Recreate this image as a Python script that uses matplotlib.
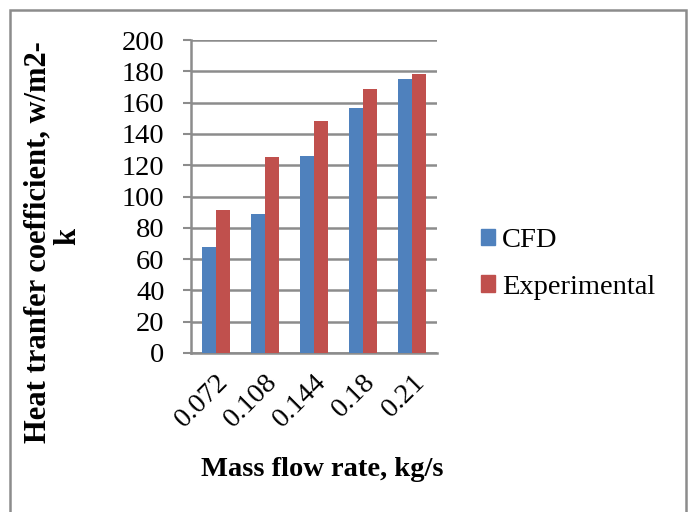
import matplotlib
matplotlib.use("Agg")
import matplotlib.pyplot as plt
import matplotlib.patches as mpatches
import numpy as np

categories = ["0.072", "0.108", "0.144", "0.18", "0.21"]
cfd = [67.5, 88.5, 126, 156.5, 175]
experimental = [91.5, 125.5, 148, 168.5, 178]
yticks = [0, 20, 40, 60, 80, 100, 120, 140, 160, 180, 200]

plt.rcParams['font.family'] = ['Liberation Serif', 'DejaVu Serif']

W, H = 690, 512
FS = 20.5
fig = plt.figure(figsize=(W/100, H/100), dpi=100)
ax = fig.add_axes([191/W, 1-353/H, (437-191)/W, (353-40)/H])

x = np.arange(len(categories))
bw = 0.285
ax.bar(x - bw/2, cfd, bw, color="#4F81BD", label="CFD", zorder=3)
ax.bar(x + bw/2, experimental, bw, color="#C0504D", label="Experimental", zorder=3)

ax.set_xlim(-0.5, len(categories) - 0.5)
ax.set_ylim(0, 200)
ax.set_yticks(yticks)
ax.set_yticklabels([str(v) for v in yticks], fontsize=FS)
ax.set_xticks(x)
ax.set_xticklabels(categories, fontsize=FS, rotation=45, ha='right', va='top',
                   rotation_mode='anchor')
ax.tick_params(axis='x', length=0, pad=12)
ax.tick_params(axis='y', length=6, width=1.5, color='#8C8C8C', pad=13)

ax.grid(axis='y', color='#8C8C8C', linewidth=1.8, zorder=0)
for s in ['top', 'right']:
    ax.spines[s].set_visible(False)
ax.spines['left'].set_color('#8C8C8C')
ax.spines['left'].set_linewidth(1.8)
ax.spines['bottom'].set_color('#8C8C8C')
ax.spines['bottom'].set_linewidth(1.8)

fig.text(38/W, 1-242/H, "Heat tranfer coefficient, w/m2-", rotation=90,
         fontsize=22, fontweight='bold', ha='center', va='center')
fig.text(68/W, 1-236/H, "k", rotation=90,
         fontsize=22, fontweight='bold', ha='center', va='center')
fig.text(322/W, 1-470/H, "Mass flow rate, kg/s", fontsize=FS, fontweight='bold',
         ha='center', va='center')

handles = [mpatches.Patch(color="#4F81BD", label="CFD"),
           mpatches.Patch(color="#C0504D", label="Experimental")]
fig.legend(handles=handles, loc='center left', bbox_to_anchor=(455/W, 1-264/H),
           frameon=False, fontsize=FS, handlelength=0.5, handleheight=0.5,
           handletextpad=0.25, labelspacing=0.75)

border = mpatches.Rectangle((10/W, -0.2), 676/W, 1.2 - 10/H, transform=fig.transFigure,
                            fill=False, edgecolor='#8C8C8C', linewidth=1.8, clip_on=False)
fig.patches.append(border)

fig.savefig("out.png", dpi=100)
